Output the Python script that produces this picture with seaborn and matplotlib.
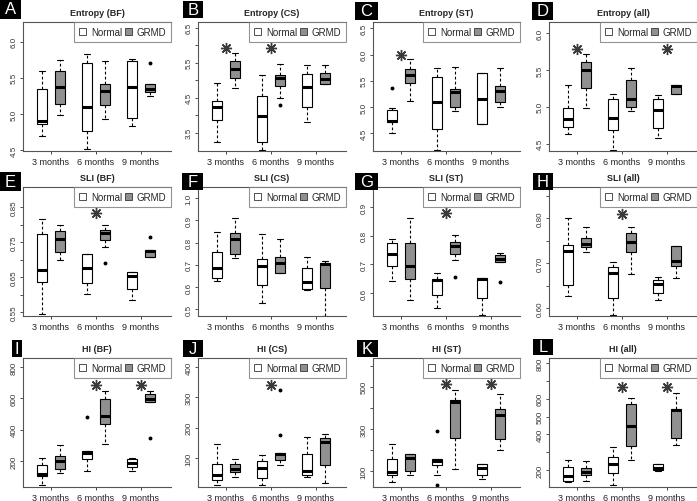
import numpy as np
import pandas as pd
import matplotlib
matplotlib.use("Agg")
import matplotlib.pyplot as plt
import seaborn as sns
from matplotlib.patches import Patch, Rectangle

sns.set_style("white")
plt.rcParams["font.family"] = ["Liberation Sans", "DejaVu Sans"]

# ---------------- data ----------------
months = ["3 months", "6 months", "9 months"]
groups = ["Normal", "GRMD"]
# box order: Normal 3m, GRMD 3m, Normal 6m, GRMD 6m, Normal 9m, GRMD 9m
# each: [whisker low, Q1, median, Q3, whisker high]
A_stats = [[4.70, 4.86, 4.91, 5.35, 5.60], [4.98, 5.14, 5.37, 5.60, 5.74],
           [4.52, 4.77, 5.10, 5.71, 5.83], [4.93, 5.12, 5.32, 5.42, 5.73],
           [4.84, 4.94, 5.38, 5.73, 5.76], [5.25, 5.30, 5.35, 5.42, 5.42]]
A_out = [(5, 5.70)]
A_stars = []

B_stats = [[3.25, 3.87, 4.23, 4.40, 4.92], [4.78, 5.07, 5.31, 5.55, 5.78],
           [3.00, 3.25, 3.98, 4.54, 5.15], [4.49, 4.84, 5.06, 5.16, 5.45],
           [3.82, 4.23, 4.80, 5.18, 5.44], [4.90, 4.90, 5.04, 5.20, 5.42]]
B_out = [(3, 4.28)]
B_stars = [(0, 5.92), (1, 5.92)]

C_stats = [[4.51, 4.71, 4.74, 4.94, 4.98], [5.11, 5.46, 5.61, 5.72, 5.91],
           [4.18, 4.58, 5.10, 5.57, 5.74], [4.93, 4.99, 5.29, 5.34, 5.77],
           [4.68, 4.68, 5.15, 5.64, 5.64], [5.00, 5.09, 5.31, 5.40, 5.74]]
C_out = [(0, 5.36)]
C_stars = [(0, 6.00)]

D_stats = [[4.63, 4.73, 4.84, 4.99, 5.30], [4.99, 5.25, 5.50, 5.61, 5.72],
           [4.42, 4.69, 4.85, 5.10, 5.18], [4.94, 5.00, 5.10, 5.36, 5.52],
           [4.58, 4.71, 4.96, 5.11, 5.16], [5.18, 5.18, 5.28, 5.30, 5.30]]
D_out = []
D_stars = [(0, 5.78), (2, 5.78)]

E_stats = [[0.545, 0.637, 0.671, 0.774, 0.817], [0.698, 0.723, 0.760, 0.783, 0.800],
           [0.602, 0.633, 0.676, 0.715, 0.715], [0.736, 0.755, 0.776, 0.786, 0.800],
           [0.585, 0.617, 0.655, 0.664, 0.664], [0.709, 0.709, 0.724, 0.729, 0.729]]
E_out = [(3, 0.690), (5, 0.765)]
E_stars = [(1, 0.833)]

F_stats = [[0.626, 0.641, 0.685, 0.758, 0.848], [0.732, 0.750, 0.818, 0.841, 0.912],
           [0.527, 0.610, 0.694, 0.727, 0.838], [0.664, 0.664, 0.709, 0.735, 0.817],
           [0.586, 0.590, 0.624, 0.688, 0.735], [0.470, 0.595, 0.704, 0.709, 0.717]]
F_out = []
F_stars = []

G_stats = [[0.642, 0.693, 0.735, 0.774, 0.789], [0.577, 0.650, 0.693, 0.775, 0.862],
           [0.549, 0.592, 0.644, 0.650, 0.671], [0.714, 0.735, 0.765, 0.777, 0.802],
           [0.522, 0.583, 0.650, 0.653, 0.653], [0.710, 0.710, 0.720, 0.734, 0.740]]
G_out = [(3, 0.656), (5, 0.640)]
G_stars = [(1, 0.879)]

H_stats = [[0.627, 0.652, 0.728, 0.741, 0.800], [0.724, 0.735, 0.743, 0.756, 0.781],
           [0.585, 0.622, 0.678, 0.691, 0.702], [0.676, 0.724, 0.748, 0.767, 0.781],
           [0.618, 0.633, 0.653, 0.663, 0.670], [0.667, 0.693, 0.705, 0.739, 0.739]]
H_out = []
H_stars = [(1, 0.810)]

I_stats = [[50, 104, 121, 174, 221], [125, 151, 200, 232, 303],
           [136, 211, 249, 264, 264], [307, 436, 485, 596, 649],
           [136, 164, 189, 211, 217], [579, 579, 596, 628, 649]]
I_out = [(2, 478), (5, 346)]
I_stars = [(1, 686), (2, 686)]

J_stats = [[10, 26, 43, 79, 147], [37, 52, 63, 81, 95],
           [12, 34, 68, 90, 109], [78, 92, 112, 117, 117],
           [37, 43, 56, 114, 169], [18, 78, 152, 165, 180]]
J_out = [(3, 175), (3, 325)]
J_stars = [(1, 341)]

K_stats = [[50, 80, 97, 158, 229], [80, 100, 163, 182, 182],
           [84, 127, 147, 158, 158], [111, 257, 426, 437, 484],
           [61, 84, 113, 135, 135], [202, 252, 364, 395, 464]]
K_out = [(2, 34), (2, 288)]
K_stars = [(1, 511), (2, 511)]

L_stats = [[133, 136, 164, 218, 258], [136, 169, 187, 213, 251],
           [115, 182, 236, 273, 331], [258, 336, 449, 569, 604],
           [195, 200, 213, 236, 236], [340, 382, 536, 545, 631]]
L_out = []
L_stars = [(1, 664), (2, 664)]

titles = ["Entropy (BF)", "Entropy (CS)", "Entropy (ST)", "Entropy (all)",
          "SLI (BF)", "SLI (CS)", "SLI (ST)", "SLI (all)",
          "HI (BF)", "HI (CS)", "HI (ST)", "HI (all)"]
letters = list("ABCDEFGHIJKL")

ylims = [(4.49, 6.27), (2.98, 6.66), (4.16, 6.62), (4.40, 6.15),
         (0.540, 0.907), (0.47, 1.05), (0.52, 0.97), (0.582, 0.87),
         (35, 857), (4, 430), (25, 636), (104, 830)]
yticks = [[4.5, 5.0, 5.5, 6.0], [3.5, 4.0, 4.5, 5.0, 5.5, 6.0, 6.5],
          [4.5, 5.0, 5.5, 6.0, 6.5], [4.5, 5.0, 5.5, 6.0],
          [0.55, 0.60, 0.65, 0.70, 0.75, 0.80, 0.85], [0.5, 0.6, 0.7, 0.8, 0.9, 1.0],
          [0.6, 0.7, 0.8, 0.9], [0.60, 0.65, 0.70, 0.75, 0.80, 0.85],
          [200, 400, 600, 800], [100, 200, 300, 400],
          [100, 200, 300, 400, 500, 600], [200, 300, 400, 500, 600, 700, 800]]
ylabels = [["4.5", "5.0", "5.5", "6.0"], ["3.5", "", "4.5", "", "5.5", "", "6.5"],
           ["4.5", "5.0", "5.5", "6.0", "6.5"], ["4.5", "5.0", "5.5", "6.0"],
           ["0.55", "", "0.65", "", "0.75", "", "0.85"], ["0.5", "0.6", "0.7", "0.8", "0.9", "1.0"],
           ["0.6", "0.7", "0.8", "0.9"], ["0.60", "", "0.70", "", "0.80", ""],
           ["200", "400", "600", "800"], ["100", "200", "300", "400"],
           ["100", "", "300", "", "500", ""], ["200", "", "400", "500", "600", "", "800"]]

all_stats = [A_stats, B_stats, C_stats, D_stats, E_stats, F_stats,
             G_stats, H_stats, I_stats, J_stats, K_stats, L_stats]
all_out = [A_out, B_out, C_out, D_out, E_out, F_out,
           G_out, H_out, I_out, J_out, K_out, L_out]
all_stars = [A_stars, B_stars, C_stars, D_stars, E_stars, F_stars,
             G_stars, H_stars, I_stars, J_stars, K_stars, L_stars]

# ---------------- layout (pixels) ----------------
W, H = 697, 502
col_left = [23, 198, 373, 549]
col_right = [171, 346, 520, 697]
row_top = [23, 188, 359]
row_bot = [152, 317, 488]
letter_boxes = [(0, 0, 21, 20), (183, 2, 203, 19), (355, 3, 378, 21), (532, 3, 553, 21),
                (0, 173, 21, 192), (182, 174, 203, 191), (355, 174, 378, 191), (533, 174, 553, 191),
                (12, 341, 22, 358), (183, 341, 203, 358), (357, 341, 378, 358), (533, 340, 553, 356)]

fill = {"Normal": "white", "GRMD": "#909090"}


def build_frame(stats, outs):
    rows = []
    for k, (lo, q1, med, q3, hi) in enumerate(stats):
        month = months[k // 2]
        grp = groups[k % 2]
        lows = sorted(v for (i, v) in outs if i == k and v < med)
        highs = sorted(v for (i, v) in outs if i == k and v > med)
        vals = lows + [lo] * (2 - len(lows)) + [q1, med, med, med, q3] \
            + [hi] * (2 - len(highs)) + highs
        for v in vals:
            rows.append({"month": month, "group": grp, "value": v})
    return pd.DataFrame(rows)


fig = plt.figure(figsize=(W / 100, H / 100), dpi=100)

for p in range(12):
    r, c = divmod(p, 4)
    l, rt = col_left[c], col_right[c]
    t, b = row_top[r], row_bot[r]
    ax = fig.add_axes([l / W, 1 - b / H, (rt - l) / W, (b - t) / H])
    df = build_frame(all_stats[p], all_out[p])
    sns.boxplot(data=df, x="month", y="value", hue="group", order=months,
                hue_order=groups, palette=fill, saturation=1, width=0.8, gap=0.4,
                linecolor="black", linewidth=0.8, fliersize=1.8,
                whiskerprops=dict(linestyle=(0, (2.5, 2))),
                medianprops=dict(linewidth=2.2, solid_capstyle="butt"),
                flierprops=dict(marker="o", markerfacecolor="black",
                                markeredgecolor="black"),
                legend=False, ax=ax)
    for (ci, yv) in all_stars[p]:
        ax.plot([ci], [yv], marker=(8, 2, 0), ms=8, mew=1.0, color="#3a3a3a",
                linestyle="none", zorder=6)
    ax.set_xlim(-0.62, (rt - l) / 45 - 0.62)
    ax.set_ylim(*ylims[p])
    ax.set_yticks(yticks[p])
    ax.set_yticklabels(ylabels[p])
    ax.set_xlabel("")
    ax.set_ylabel("")
    ax.set_title(titles[p], fontsize=6.5, fontweight="bold", pad=5)
    ax.tick_params(axis="x", labelsize=6.5, length=2.5, width=0.6, pad=1.5,
                   colors="#222222", bottom=True)
    ax.tick_params(axis="y", labelsize=5.8, length=2.5, width=0.6, pad=1.5,
                   labelrotation=90, colors="#333333", left=True)
    for lab in ax.get_yticklabels():
        lab.set_va("center")
    for side in ["top", "left", "bottom"]:
        ax.spines[side].set_color("#555555")
        ax.spines[side].set_linewidth(0.8)
    ax.spines["right"].set_visible(False)
    handles = [Patch(facecolor=fill["Normal"], edgecolor="#333333", linewidth=0.6),
               Patch(facecolor=fill["GRMD"], edgecolor="#333333", linewidth=0.6)]
    leg = ax.legend(handles, groups, ncol=2, loc="upper right",
                    bbox_to_anchor=(1.0, 1.0), borderaxespad=0, fontsize=7,
                    frameon=True, fancybox=False, handlelength=0.75,
                    handleheight=0.75, columnspacing=0.3, handletextpad=0.45,
                    borderpad=0.5)
    leg.set_zorder(5)
    leg.get_frame().set_edgecolor("#777777")
    leg.get_frame().set_linewidth(0.8)

    x0, y0, x1, y1 = letter_boxes[p]
    fig.add_artist(Rectangle((x0 / W, 1 - y1 / H), (x1 - x0) / W, (y1 - y0) / H,
                             transform=fig.transFigure, facecolor="black",
                             edgecolor="none"))
    fig.text((x0 + x1) / 2 / W, 1 - (y0 + y1) / 2 / H, letters[p], color="white",
             fontsize=12, ha="center", va="center")

fig.savefig("out.png", dpi=100, facecolor="white")
